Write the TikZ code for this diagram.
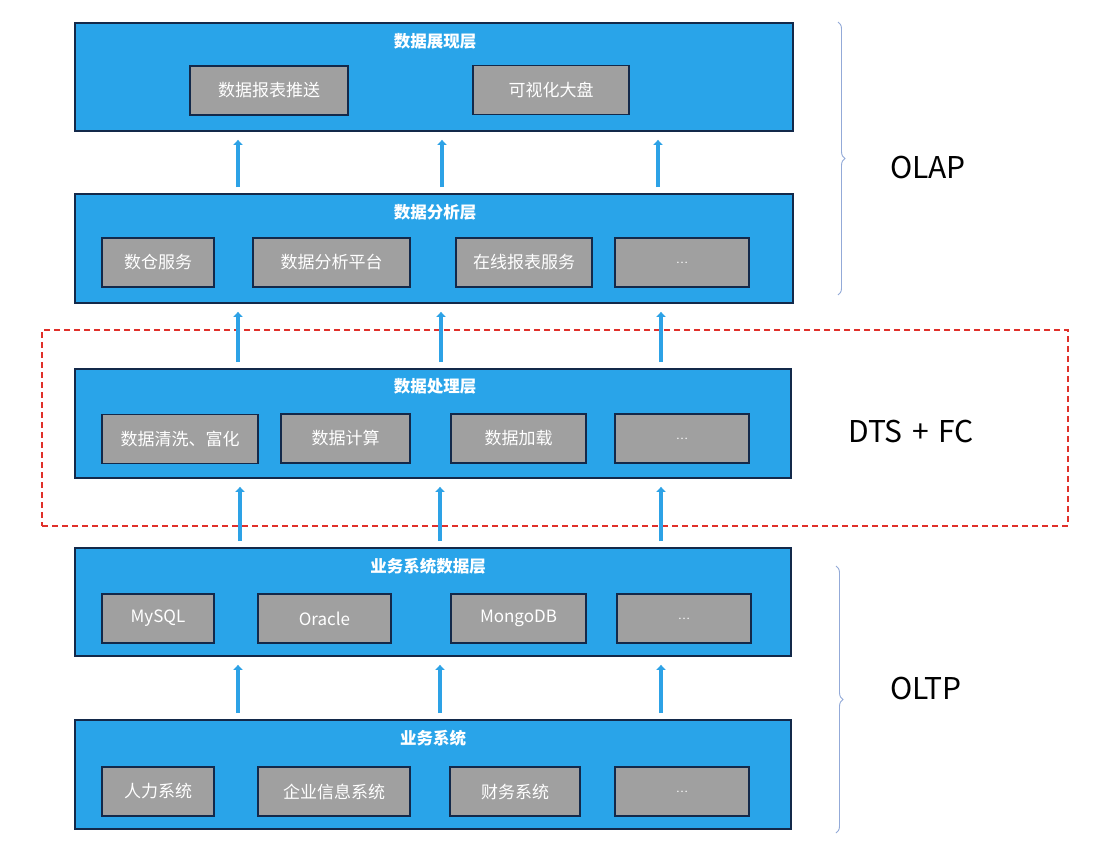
\documentclass[tikz,border=0pt]{standalone}
\usepackage{fontspec}
\setmainfont{Noto Sans CJK SC}
\usetikzlibrary{arrows.meta,decorations.pathreplacing}
\definecolor{layerblue}{HTML}{29A4E9}
\definecolor{navy}{HTML}{13294A}
\definecolor{itemgray}{HTML}{A0A0A0}
\definecolor{arrblue}{HTML}{2DA2E6}
\definecolor{bracecol}{HTML}{93AAD8}
\definecolor{dashred}{HTML}{E0302A}
\tikzset{
  layer/.style={draw=navy, line width=1.8pt, fill=layerblue, minimum height=108pt, inner sep=0pt},
  item/.style={draw=navy, line width=1.6pt, fill=itemgray, minimum height=49pt, inner sep=0pt, text=white, font=\fontsize{17}{19}\selectfont},
  head/.style={text=white, inner sep=0pt, font=\fontsize{16.5}{18}\selectfont\bfseries},
  uparr/.style={draw=arrblue, line width=3.6pt, -{Triangle[width=9pt,length=5pt]}, shorten >=8pt, shorten <=6pt},
  side/.style={text=black, inner sep=0pt, font=\fontsize{30}{33}\selectfont},
  brc/.style={draw=bracecol, line width=0.9pt, decorate, decoration={brace, amplitude=7pt}},
}
\begin{document}
\begin{tikzpicture}[x=1pt,y=-1pt]
\useasboundingbox[fill=white] (0,0) rectangle (1117,857);
% dashed region
\node[draw=dashred, line width=1.4pt, dash pattern=on 6pt off 4pt, minimum width=1026pt, minimum height=196pt, inner sep=0pt] (DR) at (555,428) {};
% layers
\node[layer, minimum width=718pt] (L1) at (434,77) {};
\node[layer, minimum width=718pt, minimum height=109pt] (L2) at (434,248.5) {};
\node[layer, minimum width=716pt, minimum height=109pt] (L3) at (433,423.5) {};
\node[layer, minimum width=716pt] (L4) at (433,602) {};
\node[layer, minimum width=716pt, minimum height=109pt] (L5) at (433,774.5) {};
% headings
\node[head] (H1) at (435,41) {数据展现层};
\node[head] (H2) at (435,212) {数据分析层};
\node[head] (H3) at (435,386) {数据处理层};
\node[head] (H4) at (428,566) {业务系统数据层};
\node[head] (H5) at (433,738) {业务系统};
% layer 1 items
\node[item, minimum width=158pt] (A1) at (269,90.5) {数据报表推送};
\node[item, minimum width=156pt] (A2) at (551,90) {可视化大盘};
% layer 2 items
\node[item, minimum width=112pt] (B1) at (158,262.5) {数仓服务};
\node[item, minimum width=157pt] (B2) at (331.5,262.5) {数据分析平台};
\node[item, minimum width=136pt] (B3) at (524,262.5) {在线报表服务};
\node[item, minimum width=134pt] (B4) at (682,262.5) {\fontsize{11}{12}\selectfont …};
% layer 3 items
\node[item, minimum width=156pt] (C1) at (180,439) {数据清洗、富化};
\node[item, minimum width=129pt] (C2) at (345.5,438.5) {数据计算};
\node[item, minimum width=135pt] (C3) at (518.5,438.5) {数据加载};
\node[item, minimum width=134pt] (C4) at (682,438.5) {\fontsize{11}{12}\selectfont …};
% layer 4 items
\node[item, minimum width=112pt] (D1) at (158,618.5) {MySQL};
\node[item, minimum width=133pt] (D2) at (324.5,618.5) {Oracle};
\node[item, minimum width=135pt] (D3) at (518.5,618.5) {MongoDB};
\node[item, minimum width=134pt] (D4) at (684,618.5) {\fontsize{11}{12}\selectfont …};
% layer 5 items
\node[item, minimum width=112pt] (E1) at (158,791.5) {人力系统};
\node[item, minimum width=152pt] (E2) at (334,791.5) {企业信息系统};
\node[item, minimum width=130pt] (E3) at (515,791.5) {财务系统};
\node[item, minimum width=134pt] (E4) at (682,791.5) {\fontsize{11}{12}\selectfont …};
% arrow columns
\coordinate (ax1) at (238,0);
\coordinate (ax2) at (442,0);
\coordinate (ax3) at (658,0);
\coordinate (bx1) at (238,0);
\coordinate (bx2) at (441,0);
\coordinate (bx3) at (661,0);
\coordinate (cx1) at (240,0);
\coordinate (cx2) at (440,0);
\coordinate (cx3) at (661,0);
\coordinate (dx1) at (238,0);
\coordinate (dx2) at (440,0);
\coordinate (dx3) at (661,0);
\foreach \c in {1,2,3}{
  \draw[uparr] (L2.north -| ax\c) -- (L1.south -| ax\c);
  \draw[uparr] (L3.north -| bx\c) -- (L2.south -| bx\c);
  \draw[uparr] (L4.north -| cx\c) -- (L3.south -| cx\c);
  \draw[uparr] (L5.north -| dx\c) -- (L4.south -| dx\c);
}
% braces
\coordinate (T1) at (838,22);
\coordinate (T2) at (838,295);
\coordinate (U1) at (836,566);
\coordinate (U2) at (836,833);
\draw[brc] (T1) -- (T2);
\draw[brc] (U1) -- (U2);
% side labels
\node[side] (OLAP) at (928,168) {OLAP};
\node[side] (DTS) at (911,431) {DTS\hspace{0.32em}+\hspace{0.32em}FC};
\node[side] (OLTP) at (926,688) {OLTP};
\end{tikzpicture}
\end{document}
